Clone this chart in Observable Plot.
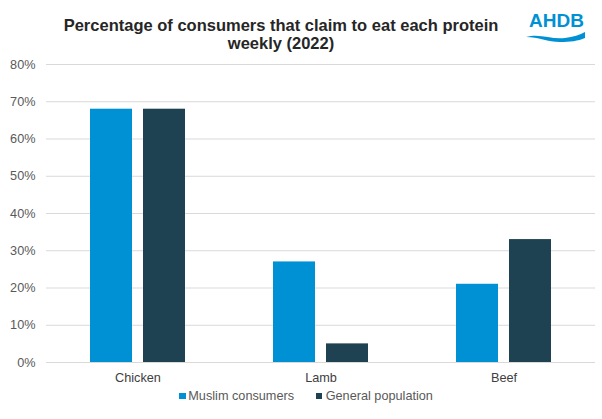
<!DOCTYPE html>
<html>
<head>
<meta charset="utf-8">
<script src="https://cdn.jsdelivr.net/npm/d3@7"></script>
<script src="https://cdn.jsdelivr.net/npm/@observablehq/plot@0.6"></script>
<style>
  html, body { margin: 0; padding: 0; background: #fff; }
  #wrap { position: relative; width: 602px; height: 419px; overflow: hidden; font-family: "Liberation Sans", Arial, sans-serif; }
  #title { position: absolute; left: 0; top: 15.5px; width: 562px; text-align: center; font-weight: bold; font-size: 16.5px; line-height: 18.5px; color: #262626; }
  #chart { position: absolute; left: 0; top: 55px; }
  .leg { position: absolute; top: 389.3px; font-size: 12.7px; line-height: 14px; color: #595959; white-space: nowrap; }
  .sw { position: absolute; width: 6.4px; height: 6.4px; top: 392.7px; }
  #logo { position: absolute; left: 520px; top: 5px; }
</style>
</head>
<body>
<div id="wrap">
  <div id="title">Percentage of consumers that claim to eat each protein<br>weekly (2022)</div>
  <div id="chart"></div>
  <svg id="logo" width="75" height="45" viewBox="0 0 75 45">
    <text x="9" y="22.3" font-family="Liberation Sans, Arial, sans-serif" font-weight="bold" font-size="19" fill="#0090D4">AHDB</text>
    <path d="M6,32 C20,28 32,35 45,33 C53,32 60,30 65,27 L65,33 C58,36 50,37 40,37 C28,37 18,32 6,32 Z" fill="#0090D4"/>
  </svg>
</div>
<script>
const categories = ["Chicken", "Lamb", "Beef"];
const series = ["Muslim consumers", "General population"];
const muslimConsumers = [68, 27, 21];
const generalPopulation = [68, 5, 33];
const yTicks = [0, 10, 20, 30, 40, 50, 60, 70, 80];
const colors = ["#0090D4", "#1F4252"];

const data = categories.flatMap((c, i) => [
  {category: c, series: series[0], value: muslimConsumers[i]},
  {category: c, series: series[1], value: generalPopulation[i]}
]);

const chart = Plot.plot({
  width: 602,
  height: 330,
  marginLeft: 46,
  marginRight: 7,
  marginTop: 9,
  marginBottom: 23,
  style: {fontFamily: "'Liberation Sans', Arial, sans-serif", fontSize: "12.7px", color: "#595959", background: "transparent"},
  fx: {domain: categories, padding: 0, label: null, axis: null},
  x: {domain: series, paddingInner: 11 / 53, paddingOuter: 0.828, axis: null},
  y: {domain: [0, 80], axis: null},
  color: {domain: series, range: colors},
  marks: [
    Plot.gridY(yTicks, {stroke: "#D9D9D9", strokeOpacity: 1, strokeWidth: 1}),
    Plot.axisY(yTicks, {tickSize: 0, tickPadding: 11, tickFormat: d => d + "%", label: null, fill: "#595959"}),
    Plot.axisFx({tickSize: 0, tickPadding: 10, label: null, fill: "#404040", anchor: "bottom"}),
    Plot.barY(data, {fx: "category", x: "series", y: "value", fill: "series"})
  ]
});
document.getElementById("chart").appendChild(chart);

// legend
const wrap = document.getElementById("wrap");
const legPos = [{sw: 179.3, tx: 188.3}, {sw: 315.7, tx: 325.7}];
series.forEach((s, i) => {
  const sw = document.createElement("div");
  sw.className = "sw";
  sw.style.left = legPos[i].sw + "px";
  sw.style.background = colors[i];
  wrap.appendChild(sw);
  const t = document.createElement("div");
  t.className = "leg";
  t.style.left = legPos[i].tx + "px";
  t.textContent = s;
  wrap.appendChild(t);
});
</script>
</body>
</html>
